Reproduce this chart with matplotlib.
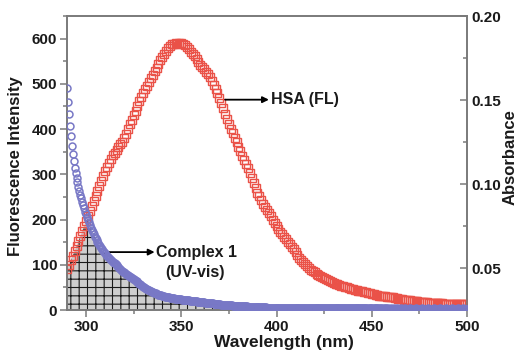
import numpy as np
import matplotlib.pyplot as plt
from matplotlib.ticker import MultipleLocator, FormatStrFormatter

plt.rcParams['font.family'] = ['Liberation Sans', 'DejaVu Sans']
plt.rcParams['font.weight'] = 'bold'
plt.rcParams['axes.labelweight'] = 'bold'
plt.rcParams['hatch.linewidth'] = 0.8

# HSA fluorescence emission (1 nm steps, 290-500 nm)
fl_wl = np.arange(290, 501, 1)
fl_int = np.array([
    90, 100, 110, 120, 131, 141, 152, 163, 174, 186,
    197, 208, 219, 230, 241, 252, 263, 274, 286, 297,
    308, 317, 326, 334, 342, 348, 354, 360, 366, 372,
    380, 390, 400, 411, 421, 431, 441, 451, 461, 470,
    479, 488, 496, 504, 512, 520, 528, 536, 544, 552,
    559, 566, 573, 579, 584, 587, 589, 590, 588, 590,
    590, 589, 586, 582, 577, 571, 566, 561, 556, 549,
    542, 537, 532, 527, 522, 515, 507, 498, 489, 479,
    468, 457, 446, 434, 422, 412, 401, 391, 381, 371,
    361, 351, 341, 332, 323, 313, 302, 291, 281, 270,
    259, 251, 243, 235, 228, 221, 214, 207, 200, 193,
    186, 179, 173, 167, 162, 156, 150, 145, 139, 134,
    128, 122, 116, 111, 106, 101, 97, 93, 89, 86,
    83, 80, 77, 75, 72, 70, 68, 66, 64, 62,
    60, 58.5, 57, 55.5, 54, 52.5, 51, 50, 48.5, 47,
    46, 45, 44, 43, 42, 41, 40, 39, 38, 37,
    36, 35, 34, 33, 32, 31.5, 31, 30, 29.5, 29,
    28.5, 28, 27, 26, 25, 24.5, 24, 23, 22.5, 22,
    21.5, 21, 20, 19.5, 19, 18.5, 18, 17.5, 17, 17,
    16.5, 16, 16, 15.5, 15, 15, 14.5, 14.5, 14, 14,
    14, 13.5, 13.5, 13.5, 13, 13, 13, 13, 12.5, 12.5,
    12.5,
])

# Complex 1 UV-vis absorbance (0.5 nm steps, 290-500 nm)
abs_wl = np.arange(290, 500.5, 0.5)
absorb = np.array([
    0.1569, 0.1489, 0.1415, 0.1348, 0.1284, 0.1225, 0.1177, 0.1135, 0.1097, 0.1065,
    0.1036, 0.1010, 0.0983, 0.0959, 0.0935, 0.0914, 0.0892, 0.0874, 0.0855, 0.0836,
    0.0820, 0.0804, 0.0788, 0.0772, 0.0756, 0.0740, 0.0727, 0.0714, 0.0700, 0.0687,
    0.0676, 0.0666, 0.0655, 0.0647, 0.0639, 0.0628, 0.0620, 0.0612, 0.0604, 0.0596,
    0.0588, 0.0580, 0.0572, 0.0564, 0.0559, 0.0554, 0.0548, 0.0543, 0.0538, 0.0532,
    0.0527, 0.0522, 0.0517, 0.0511, 0.0506, 0.0501, 0.0495, 0.0490, 0.0485, 0.0479,
    0.0474, 0.0469, 0.0465, 0.0461, 0.0457, 0.0453, 0.0449, 0.0445, 0.0441, 0.0437,
    0.0433, 0.0429, 0.0425, 0.0421, 0.0415, 0.0411, 0.0407, 0.0402, 0.0398, 0.0394,
    0.0389, 0.0385, 0.0381, 0.0377, 0.0373, 0.0370, 0.0367, 0.0365, 0.0362, 0.0359,
    0.0357, 0.0354, 0.0351, 0.0349, 0.0346, 0.0343, 0.0342, 0.0341, 0.0338, 0.0337,
    0.0335, 0.0333, 0.0331, 0.0330, 0.0329, 0.0327, 0.0326, 0.0325, 0.0323, 0.0322,
    0.0321, 0.0320, 0.0319, 0.0318, 0.0317, 0.0317, 0.0316, 0.0315, 0.0314, 0.0313,
    0.0313, 0.0312, 0.0311, 0.0310, 0.0310, 0.0309, 0.0308, 0.0307, 0.0307, 0.0306,
    0.0305, 0.0304, 0.0304, 0.0303, 0.0302, 0.0301, 0.0301, 0.0300, 0.0299, 0.0299,
    0.0298, 0.0297, 0.0297, 0.0296, 0.0295, 0.0294, 0.0294, 0.0293, 0.0292, 0.0291,
    0.0291, 0.0290, 0.0289, 0.0289, 0.0288, 0.0287, 0.0287, 0.0286, 0.0285, 0.0284,
    0.0283, 0.0283, 0.0282, 0.0282, 0.0281, 0.0281, 0.0280, 0.0280, 0.0279, 0.0279,
    0.0278, 0.0278, 0.0277, 0.0277, 0.0276, 0.0276, 0.0275, 0.0275, 0.0275, 0.0274,
    0.0274, 0.0274, 0.0273, 0.0273, 0.0272, 0.0272, 0.0272, 0.0271, 0.0271, 0.0271,
    0.0270, 0.0270, 0.0270, 0.0269, 0.0269, 0.0269, 0.0268, 0.0268, 0.0268, 0.0267,
    0.0267, 0.0267, 0.0266, 0.0266, 0.0266, 0.0266, 0.0265, 0.0265, 0.0265, 0.0265,
    0.0264, 0.0264, 0.0264, 0.0264, 0.0264, 0.0263, 0.0263, 0.0263, 0.0263, 0.0263,
    0.0263, 0.0263, 0.0264, 0.0263, 0.0263, 0.0262, 0.0263, 0.0263, 0.0262, 0.0263,
    0.0263, 0.0262, 0.0262, 0.0263, 0.0262, 0.0262, 0.0263, 0.0262, 0.0262, 0.0262,
    0.0262, 0.0262, 0.0261, 0.0262, 0.0262, 0.0262, 0.0261, 0.0262, 0.0262, 0.0261,
    0.0262, 0.0261, 0.0262, 0.0261, 0.0261, 0.0262, 0.0261, 0.0261, 0.0261, 0.0262,
    0.0261, 0.0261, 0.0261, 0.0260, 0.0261, 0.0261, 0.0261, 0.0260, 0.0261, 0.0261,
    0.0260, 0.0261, 0.0260, 0.0261, 0.0260, 0.0260, 0.0261, 0.0260, 0.0260, 0.0260,
    0.0261, 0.0260, 0.0260, 0.0260, 0.0260, 0.0259, 0.0260, 0.0260, 0.0260, 0.0259,
    0.0260, 0.0260, 0.0259, 0.0260, 0.0260, 0.0259, 0.0260, 0.0259, 0.0260, 0.0259,
    0.0259, 0.0260, 0.0259, 0.0259, 0.0260, 0.0259, 0.0259, 0.0260, 0.0259, 0.0259,
    0.0259, 0.0259, 0.0260, 0.0259, 0.0259, 0.0259, 0.0258, 0.0259, 0.0259, 0.0259,
    0.0259, 0.0258, 0.0259, 0.0259, 0.0259, 0.0258, 0.0259, 0.0259, 0.0258, 0.0259,
    0.0259, 0.0258, 0.0259, 0.0258, 0.0259, 0.0259, 0.0258, 0.0259, 0.0258, 0.0258,
    0.0259, 0.0258, 0.0258, 0.0259, 0.0258, 0.0258, 0.0259, 0.0258, 0.0258, 0.0258,
    0.0258, 0.0259, 0.0258, 0.0258, 0.0258, 0.0259, 0.0258, 0.0258, 0.0258, 0.0258,
    0.0259, 0.0258, 0.0258, 0.0258, 0.0258, 0.0258, 0.0259, 0.0258, 0.0258, 0.0258,
    0.0258, 0.0258, 0.0258, 0.0259, 0.0258, 0.0258, 0.0258, 0.0258, 0.0258, 0.0259,
    0.0258, 0.0258, 0.0258, 0.0258, 0.0258, 0.0259, 0.0258, 0.0258, 0.0258, 0.0258,
    0.0258, 0.0258, 0.0259, 0.0258, 0.0258, 0.0258, 0.0258, 0.0258, 0.0259, 0.0258,
    0.0258, 0.0258, 0.0258, 0.0258, 0.0259, 0.0258, 0.0258, 0.0258, 0.0258, 0.0258,
    0.0258, 0.0259, 0.0258, 0.0258, 0.0258, 0.0258, 0.0259, 0.0258, 0.0258, 0.0258,
    0.0258,
])

fl_lim = (0, 650)
abs_lim = (0.025, 0.20)

spine_col = '#7a7a7a'
txt_col = '#1a1a1a'
red = '#ea5248'
blue = '#7878c6'

fig = plt.figure(figsize=(5.22, 3.52), dpi=100)
ax = fig.add_axes([67 / 522, 42 / 352, 400 / 522, 294 / 352])
ax2 = ax.twinx()

# spectral overlap: area under both curves, absorbance put on the intensity scale
abs_on_fl = fl_lim[0] + (absorb[::2] - abs_lim[0]) / (abs_lim[1] - abs_lim[0]) * (fl_lim[1] - fl_lim[0])
overlap = np.minimum(fl_int, abs_on_fl)
ax.fill_between(fl_wl, 0, overlap, facecolor='#cecece', edgecolor='#1a1a1a',
                hatch='++', linewidth=0, zorder=1)

ax.plot(fl_wl, fl_int, 's', ms=6, mfc='none', mec=red, mew=1.0, zorder=3)
ax2.plot(abs_wl, absorb, 'o', ms=5, mfc='none', mec=blue, mew=1.1, zorder=3)

ax.set_xlim(290, 500)
ax.set_ylim(*fl_lim)
ax2.set_ylim(*abs_lim)

ax.xaxis.set_major_locator(MultipleLocator(50))
ax.xaxis.set_minor_locator(MultipleLocator(25))
ax.yaxis.set_major_locator(MultipleLocator(100))
ax.yaxis.set_minor_locator(MultipleLocator(50))
ax2.yaxis.set_major_locator(MultipleLocator(0.05))
ax2.yaxis.set_minor_locator(MultipleLocator(0.025))
ax2.yaxis.set_major_formatter(FormatStrFormatter('%.2f'))

for a in (ax, ax2):
    for s in a.spines.values():
        s.set_color(spine_col)
        s.set_linewidth(1.2)

ax.tick_params(which='both', direction='out', color=spine_col, width=1.1,
               labelsize=11, labelcolor=txt_col, pad=2)
ax.tick_params(which='major', length=5)
ax.tick_params(which='minor', length=3)
ax2.tick_params(which='both', direction='in', color=spine_col, width=1.1,
                labelsize=11, labelcolor=txt_col, pad=3)
ax2.tick_params(which='major', length=5)
ax2.tick_params(which='minor', length=3)

ax.set_xlabel('Wavelength (nm)', fontsize=12.5, fontweight='bold', color=txt_col)
ax.xaxis.set_label_coords(0.5425, -0.085)
ax.set_ylabel('Fluorescence Intensity', fontsize=12, fontweight='bold', color=txt_col)
ax.yaxis.set_label_coords(-0.11, 0.49)
ax2.set_ylabel('Absorbance', fontsize=12, fontweight='bold', color=txt_col)
ax2.yaxis.set_label_coords(1.09, 0.52)

arrow = dict(arrowstyle='-|>', color='black', lw=1.3, mutation_scale=9,
             shrinkA=0, shrinkB=0)
ax.annotate('', xy=(396, 465), xytext=(373, 465), arrowprops=arrow, zorder=5)
ax.text(397, 465, 'HSA (FL)', ha='left', va='center', fontsize=11.5, color=txt_col)
ax.annotate('', xy=(336, 128), xytext=(312, 128), arrowprops=arrow, zorder=5)
ax.text(358, 128, 'Complex 1', ha='center', va='center', fontsize=11.5, color=txt_col)
ax.text(357, 84, '(UV-vis)', ha='center', va='center', fontsize=11.5, color=txt_col)

fig.savefig('out.png', dpi=100)
